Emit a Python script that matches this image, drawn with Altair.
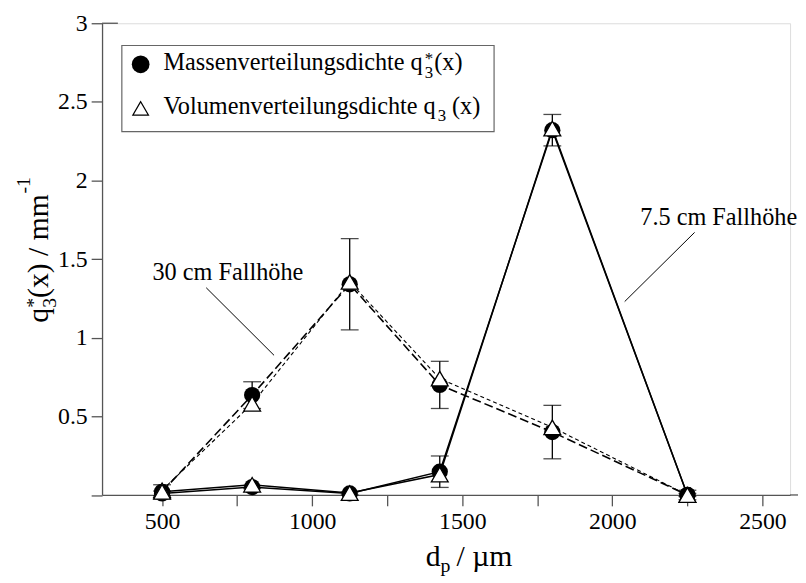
import altair as alt
import pandas as pd

# ---------------- data ----------------
d_p = [500, 800, 1125, 1425, 1800, 2250]

mass_30 = [0.02, 0.635, 1.34, 0.70, 0.40, 0.0]
vol_30 = [0.03, 0.58, 1.355, 0.74, 0.43, 0.0]
err_30 = [0.045, 0.085, 0.29, 0.15, 0.17, 0.03]

mass_75 = [0.01, 0.05, 0.01, 0.148, 2.32, 0.0]
vol_75 = [0.02, 0.065, 0.012, 0.13, 2.33, 0.0]
err_75 = [0.015, 0.01, 0.01, 0.10, 0.10, 0.01]

x_ticks = [500, 750, 1000, 1250, 1500, 1750, 2000, 2250, 2500]
y_ticks = [0, 0.5, 1, 1.5, 2, 2.5, 3]

FONT = "Liberation Serif"
AX = "#555555"

rows = []
for i, xv in enumerate(d_p):
    rows.append(dict(x=xv, y=mass_30[i], e=err_30[i], series="m30", kind="mass"))
    rows.append(dict(x=xv, y=vol_30[i], e=0, series="v30", kind="vol"))
    rows.append(dict(x=xv, y=mass_75[i], e=err_75[i], series="m75", kind="mass"))
    rows.append(dict(x=xv, y=vol_75[i], e=0, series="v75", kind="vol"))
df = pd.DataFrame(rows)
df["lo"] = df["y"] - df["e"]
df["hi"] = df["y"] + df["e"]

xs = alt.Scale(domain=[300, 2592], nice=False, zero=False)
ys = alt.Scale(domain=[0, 3], nice=False, zero=False)

X = alt.X("x:Q", scale=xs, title=None,
          axis=alt.Axis(values=x_ticks, format="d",
                        labelExpr="datum.value % 500 == 0 ? datum.label : ''",
                        grid=False, tickSize=11, labelPadding=4,
                        labelFont=FONT, labelFontSize=24, labelColor="black",
                        domainColor=AX, tickColor=AX, domainWidth=1.3, tickWidth=1.3))
Y = alt.Y("y:Q", scale=ys, title=None,
          axis=alt.Axis(values=y_ticks, format="~g",
                        labelExpr="datum.value == 0 ? '' : datum.label",
                        grid=False, tickSize=11, labelPadding=4,
                        labelFont=FONT, labelFontSize=24, labelColor="black",
                        domainColor=AX, tickColor=AX, domainWidth=1.3, tickWidth=1.3))

base = alt.Chart(df)

line_solid = base.transform_filter(
    alt.FieldOneOfPredicate(field="series", oneOf=["m75", "v75"])
).mark_line(color="black", strokeWidth=1.5).encode(x=X, y=Y, detail="series:N")

line_m30 = base.transform_filter(alt.datum.series == "m30").mark_line(
    color="black", strokeWidth=1.6, strokeDash=[9, 4]).encode(x=X, y=Y)
line_v30 = base.transform_filter(alt.datum.series == "v30").mark_line(
    color="black", strokeWidth=1.1, strokeDash=[4, 3]).encode(x=X, y=Y)

errd = base.transform_filter(alt.datum.kind == "mass")
err_rule = errd.mark_rule(color="black", strokeWidth=1.3).encode(
    x="x:Q", y=alt.Y("lo:Q", scale=ys), y2="hi:Q")
cap_lo = errd.mark_tick(color="black", orient="horizontal", size=18, thickness=1.3).encode(
    x="x:Q", y=alt.Y("lo:Q", scale=ys))
cap_hi = errd.mark_tick(color="black", orient="horizontal", size=18, thickness=1.3).encode(
    x="x:Q", y=alt.Y("hi:Q", scale=ys))

circles = base.transform_filter(alt.datum.kind == "mass").mark_point(
    shape="circle", filled=True, color="black", size=270, opacity=1).encode(x="x:Q", y="y:Q")
tris = base.transform_filter(alt.datum.kind == "vol").mark_point(
    shape="triangle-up", filled=True, fill="white", stroke="black", strokeWidth=1.3,
    size=290, opacity=1).encode(x="x:Q", y="y:Q")

# ------------- annotations (data coordinates) -------------
ann_text = pd.DataFrame({
    "x": [468, 2093],
    "y": [1.366, 1.719],
    "t": ["30 cm Fallhöhe", "7.5 cm Fallhöhe"],
})
ann_lines = pd.DataFrame({
    "x": [647, 2274], "y": [1.318, 1.670],
    "x2": [873, 2041], "y2": [0.888, 1.230],
})
ann_t = alt.Chart(ann_text).mark_text(
    font=FONT, fontSize=24.5, align="left", baseline="alphabetic", color="black"
).encode(x=alt.X("x:Q", scale=xs), y=alt.Y("y:Q", scale=ys), text="t:N")
ann_l = alt.Chart(ann_lines).mark_rule(color="black", strokeWidth=1).encode(
    x=alt.X("x:Q", scale=xs), y=alt.Y("y:Q", scale=ys), x2="x2:Q", y2="y2:Q")


def txt(s, x, y, size, angle=0, align="left", baseline="alphabetic"):
    kw = dict(font=FONT, fontSize=size, align=align, baseline=baseline, color="black", text=s)
    if angle:
        kw["angle"] = angle
    return alt.Chart(pd.DataFrame({"k": [0]})).mark_text(**kw).encode(
        x=alt.value(x), y=alt.value(y))


# ------------- legend (pixel positions in plot area) -------------
leg_box = alt.Chart(pd.DataFrame({"k": [0]})).mark_rect(
    fill="white", stroke="#666666", strokeWidth=1.2).encode(
    x=alt.value(20), x2=alt.value(396), y=alt.value(22.5), y2=alt.value(109.5))
leg_c = alt.Chart(pd.DataFrame({"k": [0]})).mark_point(
    shape="circle", filled=True, color="black", size=320, opacity=1).encode(
    x=alt.value(39), y=alt.value(41.5))
leg_tri = alt.Chart(pd.DataFrame({"k": [0]})).mark_point(
    shape="triangle-up", filled=True, fill="white", stroke="black", strokeWidth=1.2,
    size=250, opacity=1).encode(x=alt.value(39), y=alt.value(86))

legend = [
    leg_box, leg_c, leg_tri,
    txt("Massenverteilungsdichte q", 62, 47.2, 24.5),
    txt("*", 326, 41.5, 17),
    txt("3", 326, 55, 17),
    txt("(x)", 335.5, 47.2, 24.5),
    txt("Volumenverteilungsdichte q", 62, 91.5, 24.5),
    txt("3", 339, 99, 17),
    txt("(x)", 353.5, 91.5, 24.5),
]

# ------------- axis titles -------------
titles = [
    # y title, rotated
    txt("q", -55, 302.5, 30, angle=270),
    txt("*", -63, 287.5, 20, angle=270),
    txt("3", -47, 287.5, 20, angle=270),
    txt("(x) / mm", -55, 277.5, 30, angle=270),
    txt("-1", -73, 172, 20, angle=270),
    # x title
    txt("d", 327, 548, 30),
    txt("p", 342, 554.5, 20),
    txt("/ µm", 358, 548, 30),
]

# extension of x axis line to the window edge and short top stub
ext = alt.Chart(pd.DataFrame({"k": [0]})).mark_rule(color=AX, strokeWidth=1.3).encode(
    x=alt.value(695), x2=alt.value(703), y=alt.value(476.5))
top_stub = alt.Chart(pd.DataFrame({"k": [0]})).mark_rule(color=AX, strokeWidth=1.3).encode(
    x=alt.value(0), x2=alt.value(16), y=alt.value(0))

chart = alt.layer(
    line_solid, line_m30, line_v30, err_rule, cap_lo, cap_hi, circles, tris,
    ann_l, ann_t, ext, top_stub, *legend, *titles
).properties(
    width=695, height=476.5,
    autosize=alt.AutoSizeParams(type="none"),
    padding={"left": 95, "top": 12.5, "right": 8, "bottom": 84},
).configure_view(stroke=None).configure(
    background="white", font=FONT
).configure_axis(labelFont=FONT, titleFont=FONT).configure_text(font=FONT)

chart.save("out.html", embed_options={"renderer": "svg", "actions": False})
